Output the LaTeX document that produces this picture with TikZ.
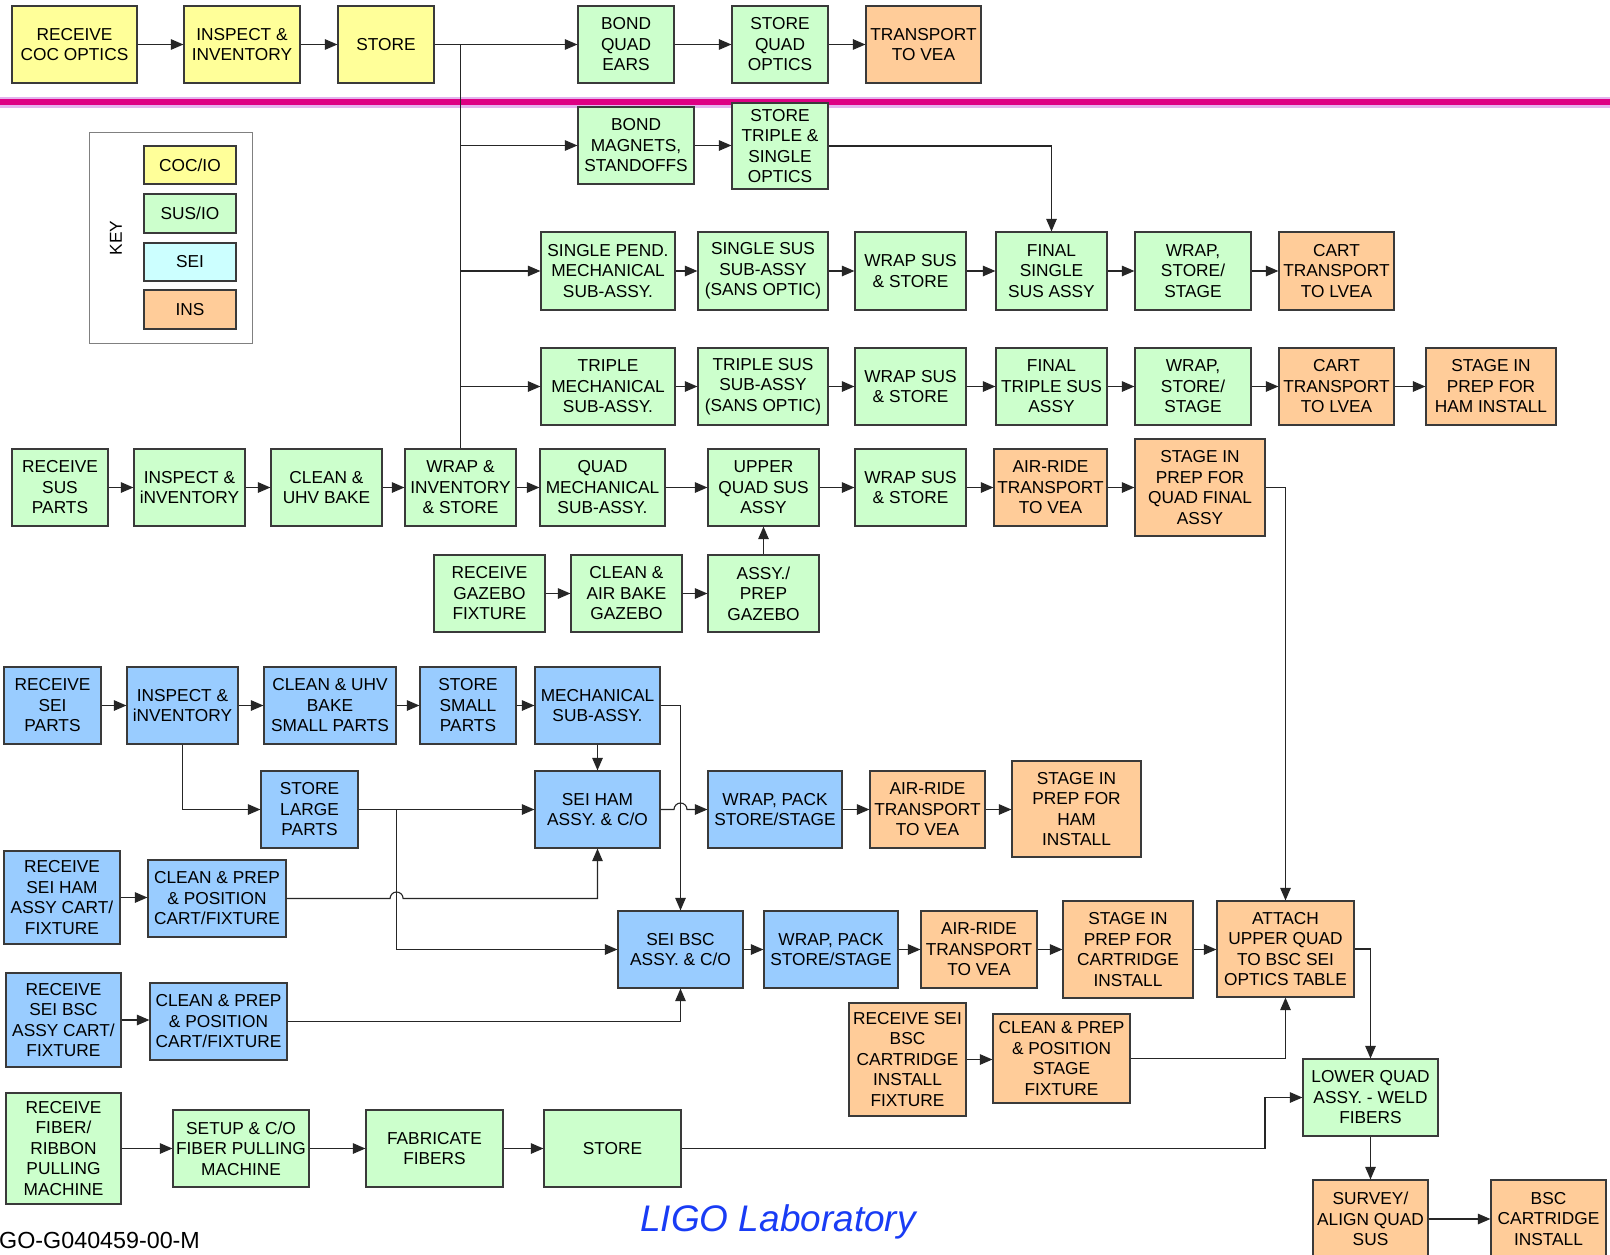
\documentclass[tikz,border=0pt]{standalone}
\usepackage{fontspec}
\setmainfont{Liberation Sans}
\usetikzlibrary{arrows.meta,calc}
\definecolor{cocY}{HTML}{FFFF99}
\definecolor{susG}{HTML}{CCFFCC}
\definecolor{seiB}{HTML}{99CCFF}
\definecolor{seiK}{HTML}{CCFFFF}
\definecolor{insO}{HTML}{FFCC99}
\definecolor{magLine}{RGB}{222,0,132}
\definecolor{lavLine}{RGB}{228,180,238}
\definecolor{ligoBlue}{RGB}{25,60,245}
\definecolor{edgeGray}{HTML}{3A3A3A}
\newcommand\bx[7]{\node[box,#6,minimum width={#4-#2},minimum height={#5-#3}] (#1) at ({(#2+#4)/2},{(#3+#5)/2}) {#7};}
\begin{document}
\begin{tikzpicture}[x=1pt,y=-1pt,
  box/.style={draw=edgeGray,line width=1.2pt,inner sep=0pt,align=center,
    font=\fontsize{17.3}{20.5}\selectfont,text=black},
  arr/.style={-{Triangle[length=12.5pt,width=10.5pt]},line width=1.1pt,draw=black!85},
  ln/.style={line width=1.1pt,draw=black!85}]
\useasboundingbox (0,0) rectangle (1610,1255);
\clip (0,0) rectangle (1610,1255);
\fill[white] (0,0) rectangle (1610,1255);
% separator line
\draw[lavLine,line width=11pt] (0,102.3) -- (1610,102.3);
\draw[magLine,line width=6pt] (0,102.3) -- (1610,102.3);
% key
\bx{key}{89}{132}{252}{343}{draw=gray,line width=1pt,fill=white}{}
\node[font=\fontsize{17.3}{20.5}\selectfont,rotate=90] (keytxt) at (116,238) {KEY};
\bx{kcoc}{144}{146}{236}{184}{fill=cocY}{COC/IO}
\bx{ksus}{144}{194}{236}{233}{fill=susG}{SUS/IO}
\bx{ksei}{144}{243}{236}{281}{fill=seiK}{SEI}
\bx{kins}{144}{290}{236}{329}{fill=insO}{INS}
% row 0
\bx{coc1}{12}{6}{137}{83}{fill=cocY}{RECEIVE\\COC OPTICS}
\bx{coc2}{184}{6}{300}{83}{fill=cocY}{INSPECT \&\\INVENTORY}
\bx{coc3}{338}{6}{434}{83}{fill=cocY}{STORE}
\bx{bqe}{578}{6}{674}{83}{fill=susG}{BOND\\QUAD\\EARS}
\bx{sqo}{732}{6}{828}{83}{fill=susG}{STORE\\QUAD\\OPTICS}
\bx{tvea}{866}{6}{981}{83}{fill=insO}{TRANSPORT\\TO VEA}
% row 1
\bx{bms}{578}{107}{694}{184}{fill=susG}{BOND\\MAGNETS,\\STANDOFFS}
\bx{stso}{732}{103}{828}{189}{fill=susG}{STORE\\TRIPLE \&\\SINGLE\\OPTICS}
% row 2
\bx{spm}{541}{232}{675}{310}{fill=susG}{SINGLE PEND.\\MECHANICAL\\SUB-ASSY.}
\bx{sss}{698}{232}{828}{310}{fill=susG}{SINGLE SUS\\SUB-ASSY\\(SANS OPTIC)}
\bx{wssa}{855}{232}{966}{310}{fill=susG}{WRAP SUS\\\& STORE}
\bx{fss}{996}{232}{1107}{310}{fill=susG}{FINAL\\SINGLE\\SUS ASSY}
\bx{wssb}{1135}{232}{1251}{310}{fill=susG}{WRAP,\\STORE/\\STAGE}
\bx{ctla}{1279}{232}{1394}{310}{fill=insO}{CART\\TRANSPORT\\TO LVEA}
% row 3
\bx{tm}{541}{348}{675}{425}{fill=susG}{TRIPLE\\MECHANICAL\\SUB-ASSY.}
\bx{tss}{698}{348}{828}{425}{fill=susG}{TRIPLE SUS\\SUB-ASSY\\(SANS OPTIC)}
\bx{wssc}{855}{348}{966}{425}{fill=susG}{WRAP SUS\\\& STORE}
\bx{fts}{996}{348}{1107}{425}{fill=susG}{FINAL\\TRIPLE SUS\\ASSY}
\bx{wssd}{1135}{348}{1251}{425}{fill=susG}{WRAP,\\STORE/\\STAGE}
\bx{ctlb}{1279}{348}{1394}{425}{fill=insO}{CART\\TRANSPORT\\TO LVEA}
\bx{shama}{1426}{348}{1556}{425}{fill=insO}{STAGE IN\\PREP FOR\\HAM INSTALL}
% row 4
\bx{rsp}{12}{449}{108}{526}{fill=susG}{RECEIVE\\SUS\\PARTS}
\bx{isp}{134}{449}{245}{526}{fill=susG}{INSPECT \&\\iNVENTORY}
\bx{cub}{271}{449}{382}{526}{fill=susG}{CLEAN \&\\UHV BAKE}
\bx{wis}{405}{449}{516}{526}{fill=susG}{WRAP \&\\INVENTORY\\\& STORE}
\bx{qm}{540}{449}{665}{526}{fill=susG}{QUAD\\MECHANICAL\\SUB-ASSY.}
\bx{uqs}{708}{449}{819}{526}{fill=susG}{UPPER\\QUAD SUS\\ASSY}
\bx{wsse}{855}{449}{966}{526}{fill=susG}{WRAP SUS\\\& STORE}
\bx{arta}{994}{449}{1107}{526}{fill=insO}{AIR-RIDE\\TRANSPORT\\TO VEA}
\bx{sqf}{1135}{439}{1265}{536}{fill=insO}{STAGE IN\\PREP FOR\\QUAD FINAL\\ASSY}
% row 5
\bx{rgf}{434}{555}{545}{632}{fill=susG}{RECEIVE\\GAZEBO\\FIXTURE}
\bx{cag}{571}{555}{682}{632}{fill=susG}{CLEAN \&\\AIR BAKE\\GAZEBO}
\bx{apg}{708}{555}{819}{632}{fill=susG}{ASSY./\\PREP\\GAZEBO}
% row 6
\bx{rsei}{4}{667}{101}{744}{fill=seiB}{RECEIVE\\SEI\\PARTS}
\bx{isei}{127}{667}{238}{744}{fill=seiB}{INSPECT \&\\iNVENTORY}
\bx{cusp}{264}{667}{396}{744}{fill=seiB}{CLEAN \& UHV\\BAKE\\SMALL PARTS}
\bx{ssp}{420}{667}{516}{744}{fill=seiB}{STORE\\SMALL\\PARTS}
\bx{msa}{535}{667}{660}{744}{fill=seiB}{MECHANICAL\\SUB-ASSY.}
% row 7
\bx{slp}{261}{771}{358}{848}{fill=seiB}{STORE\\LARGE\\PARTS}
\bx{seiham}{535}{771}{660}{848}{fill=seiB}{SEI HAM\\ASSY. \& C/O}
\bx{wpsa}{708}{771}{842}{848}{fill=seiB}{WRAP, PACK\\STORE/STAGE}
\bx{artb}{870}{771}{985}{848}{fill=insO}{AIR-RIDE\\TRANSPORT\\TO VEA}
\bx{shamb}{1012}{761}{1141}{857}{fill=insO}{STAGE IN\\PREP FOR\\HAM\\INSTALL}
% row 8/9
\bx{rhamc}{4}{851}{120}{944}{fill=seiB}{RECEIVE\\SEI HAM\\ASSY CART/\\FIXTURE}
\bx{cpham}{148}{860}{286}{937}{fill=seiB}{CLEAN \& PREP\\\& POSITION\\CART/FIXTURE}
\bx{rbscc}{6}{973}{121}{1067}{fill=seiB}{RECEIVE\\SEI BSC\\ASSY CART/\\FIXTURE}
\bx{cpbsc}{150}{983}{287}{1060}{fill=seiB}{CLEAN \& PREP\\\& POSITION\\CART/FIXTURE}
% BSC row
\bx{seibsc}{618}{911}{743}{988}{fill=seiB}{SEI BSC\\ASSY. \& C/O}
\bx{wpsb}{764}{911}{898}{988}{fill=seiB}{WRAP, PACK\\STORE/STAGE}
\bx{artc}{921}{911}{1037}{988}{fill=insO}{AIR-RIDE\\TRANSPORT\\TO VEA}
\bx{scart}{1063}{901}{1193}{998}{fill=insO}{STAGE IN\\PREP FOR\\CARTRIDGE\\INSTALL}
\bx{attach}{1217}{901}{1354}{997}{fill=insO}{ATTACH\\UPPER QUAD\\TO BSC SEI\\OPTICS TABLE}
\bx{rbsccf}{849}{1003}{966}{1116}{fill=insO}{RECEIVE SEI\\BSC\\CARTRIDGE\\INSTALL\\FIXTURE}
\bx{cpsf}{993}{1014}{1130}{1103}{fill=insO}{CLEAN \& PREP\\\& POSITION\\STAGE\\FIXTURE}
\bx{lq}{1303}{1059}{1438}{1136}{fill=susG}{LOWER QUAD\\ASSY. - WELD\\FIBERS}
\bx{survey}{1313}{1180}{1428}{1258}{fill=insO}{SURVEY/\\ALIGN QUAD\\SUS}
\bx{bsci}{1491}{1180}{1606}{1258}{fill=insO}{BSC\\CARTRIDGE\\INSTALL}
% fiber row
\bx{rfr}{6}{1093}{121}{1204}{fill=susG}{RECEIVE\\FIBER/\\RIBBON\\PULLING\\MACHINE}
\bx{sco}{173}{1110}{309}{1187}{fill=susG}{SETUP \& C/O\\FIBER PULLING\\MACHINE}
\bx{ff}{366}{1110}{503}{1187}{fill=susG}{FABRICATE\\FIBERS}
\bx{st}{544}{1110}{681}{1187}{fill=susG}{STORE}
% texts
\node[font=\fontsize{37}{40}\selectfont\itshape,text=ligoBlue,anchor=base,inner sep=0pt] (ligo) at (778,1231) {LIGO Laboratory};
\node[font=\fontsize{23.3}{26}\selectfont,anchor=base west,inner sep=0pt] (docid) at (-1,1248) {GO-G040459-00-M};
% ---- connectors
\newcommand\hz[2]{\draw[arr] (#1.east) -- (#1.east -| #2.west);}
\hz{coc1}{coc2} \hz{coc2}{coc3}
\draw[arr] (coc3.east) -- (coc3.east -| bqe.west);
\hz{bqe}{sqo} \hz{sqo}{tvea}
\draw[ln] (coc3.east -| wis.north) -- (wis.north);
\draw[arr] (bms.west -| wis.north) -- (bms.west);
\hz{bms}{stso}
\draw[arr] (stso.east) -| (fss.north);
\draw[arr] (spm.west -| wis.north) -- (spm.west);
\hz{spm}{sss} \hz{sss}{wssa} \hz{wssa}{fss} \hz{fss}{wssb} \hz{wssb}{ctla}
\draw[arr] (tm.west -| wis.north) -- (tm.west);
\hz{tm}{tss} \hz{tss}{wssc} \hz{wssc}{fts} \hz{fts}{wssd} \hz{wssd}{ctlb} \hz{ctlb}{shama}
\hz{rsp}{isp} \hz{isp}{cub} \hz{cub}{wis} \hz{wis}{qm} \hz{qm}{uqs} \hz{uqs}{wsse} \hz{wsse}{arta} \hz{arta}{sqf}
\hz{rgf}{cag} \hz{cag}{apg}
\draw[arr] (apg.north) -- (uqs.south);
\draw[arr] (sqf.east) -| (attach.north);
\hz{rsei}{isei} \hz{isei}{cusp} \hz{cusp}{ssp} \hz{ssp}{msa}
\draw[arr] (msa.south) -- (seiham.north);
\draw[arr] (msa.east) -| (seibsc.north);
\draw[arr] (isei.south) |- (slp.west);
\draw[arr] (slp.east) -- (seiham.west);
\coordinate (jA) at ($(slp.east)+(38,0)$);
\draw[arr] (jA) |- (seibsc.west);
\draw[arr] (seiham.east) -- ($(seibsc.north |- seiham.east)+(-6.5,0)$) arc[start angle=180,end angle=0,radius=6.5pt] -- (seiham.east -| wpsa.west);
\hz{wpsa}{artb} \hz{artb}{shamb}
\hz{rhamc}{cpham}
\draw[arr] (cpham.east) -- ($(jA |- cpham.east)+(-6.5,0)$) arc[start angle=180,end angle=0,radius=6.5pt] -| (seiham.south);
\hz{rbscc}{cpbsc}
\draw[arr] (cpbsc.east) -| (seibsc.south);
\hz{seibsc}{wpsb} \hz{wpsb}{artc} \hz{artc}{scart} \hz{scart}{attach}
\hz{rbsccf}{cpsf}
\draw[arr] (cpsf.east) -| (attach.south);
\draw[arr] (attach.east) -| (lq.north);
\hz{rfr}{sco} \hz{sco}{ff} \hz{ff}{st}
\coordinate (jB) at (1265,1148.5);
\draw[arr] (st.east) -- (jB) |- (lq.west);
\draw[arr] (lq.south) -- (survey.north);
\draw[arr] (survey.east) -- (survey.east -| bsci.west);
\end{tikzpicture}
\end{document}
